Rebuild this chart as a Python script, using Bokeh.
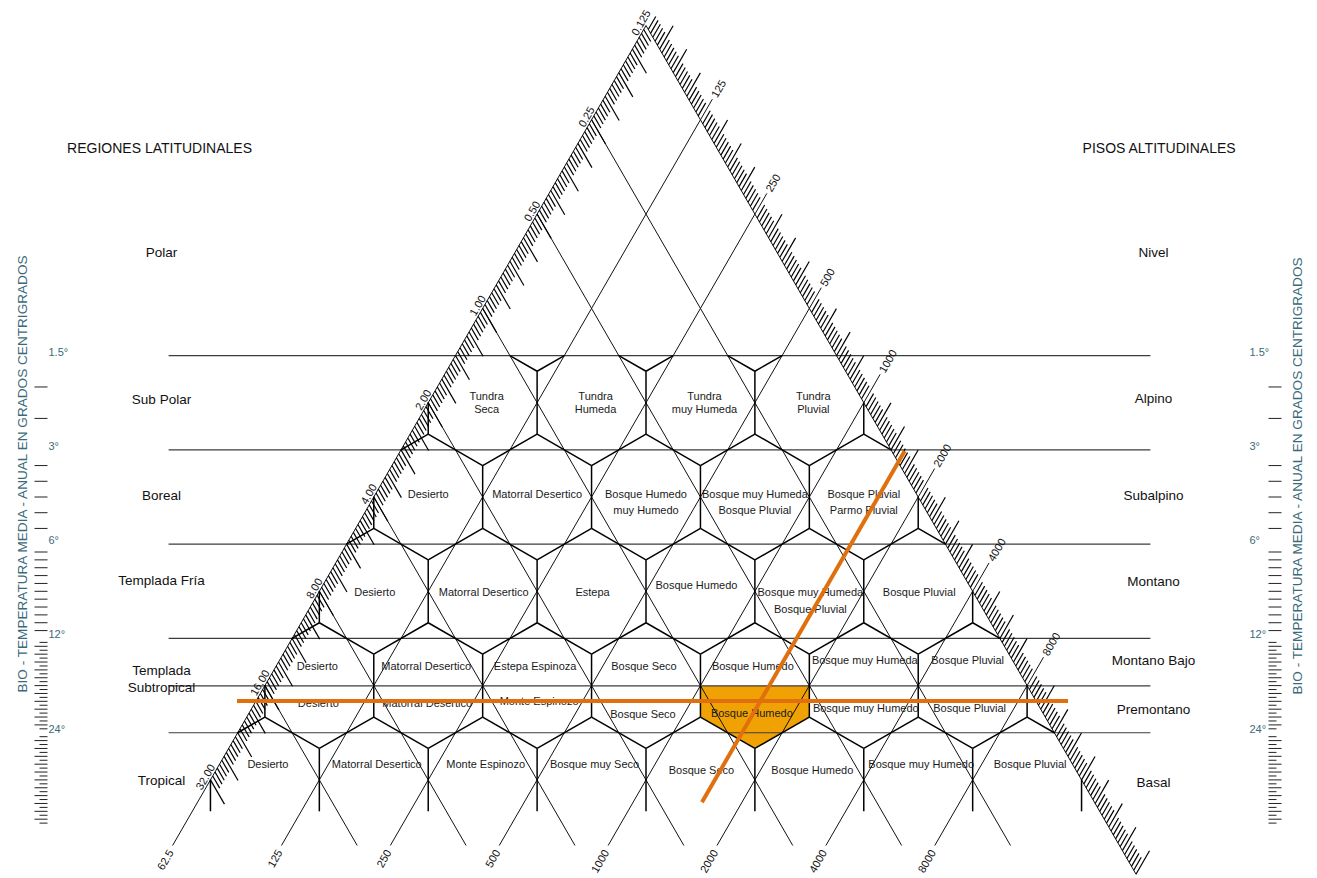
import math
from bokeh.plotting import figure
from bokeh.models import Range1d
from bokeh.embed import file_html
from bokeh.resources import INLINE
from bokeh.core.properties import value

# ---------------- chart values ----------------
pet_values = [0.125, 0.25, 0.5, 1, 2, 4, 8, 16, 32]
pet_labels = ["0.125", "0.25", "0.50", "1.00", "2.00", "4.00", "8.00", "16.00", "32.00"]

precip_edge_values = [125, 250, 500, 1000, 2000, 4000, 8000]
precip_edge_labels = ["125", "250", "500", "1000", "2000", "4000", "8000"]
precip_edge_end = 32000

precip_base_values = [62.5, 125, 250, 500, 1000, 2000, 4000, 8000]
precip_base_labels = ["62.5", "125", "250", "500", "1000", "2000", "4000", "8000"]

temp_lines = [1.5, 3, 6, 12, 17, 24]
temp_scale_values = [1.5, 3, 6, 12, 24]
temp_scale_labels = ["1.5°", "3°", "6°", "12°", "24°"]
temp_scale_steps = [0.5, 0.5, 0.5, 0.5, 1.0]
temp_axis_title = "BIO - TEMPERATURA MEDIA - ANUAL EN GRADOS CENTRIGRADOS"

regions_title = "REGIONES  LATITUDINALES"
regions = ["Polar", "Sub Polar", "Boreal", "Templada Fría", "Templada\nSubtropical", "Tropical"]
region_bands = [(0.375, 1.5), (1.5, 3), (3, 6), (6, 12), (12, 24), (24, 48)]

floors_title = "PISOS ALTITUDINALES"
floors = ["Nivel", "Alpino", "Subalpino", "Montano", "Montano Bajo", "Premontano", "Basal"]
floor_bands = [(0.375, 1.5), (1.5, 3), (3, 6), (6, 12), (12, 17), (17, 24), (24, 48)]

zones_row4 = ["Tundra\nSeca", "Tundra\nHumeda", "Tundra\nmuy Humeda", "Tundra\nPluvial"]
zones_row5 = ["Desierto", "Matorral Desertico", "Bosque Humedo\nmuy Humedo",
              "Bosque muy Humeda\nBosque Pluvial", "Bosque Pluvial\nParmo Pluvial"]
zones_row6 = ["Desierto", "Matorral Desertico", "Estepa", "Bosque Humedo",
              "Bosque muy Humeda\nBosque Pluvial", "Bosque Pluvial"]
zones_row7_upper = ["Desierto", "Matorral Desertico", "Estepa Espinoza", "Bosque Seco",
                    "Bosque Humedo", "Bosque muy Humeda", "Bosque Pluvial"]
zones_row7_lower = ["Desierto", "Matorral Desertico", "Monte Espinozo", "Bosque Seco",
                    "Bosque Humedo", "Bosque muy Humedo", "Bosque Pluvial"]
zones_row8 = ["Desierto", "Matorral Desertico", "Monte Espinozo", "Bosque muy Seco",
              "Bosque Seco", "Bosque Humedo", "Bosque muy Humedo", "Bosque Pluvial"]

sample_temp = 19
sample_precip = 1550

# ---------------- layout (picture pixels) ----------------
W, H = 1317, 878
AX, AY = 645.5, 25.0          # apex of the triangle
RH = 94.3                     # height of one log2 step
HW = RH / math.sqrt(3)        # half width of one step
BASE_Y = 845.0                # cut of the triangle
HEX_R = 2 * RH / 3
REF_ROW = 3.5                 # row of first temperature line
S3 = math.sqrt(3) / 2
UP_R = (0.5, -S3)
DN_R = (0.5, S3)
OUT_L = (-S3, -0.5)
FONT = value("Liberation Sans")
TEAL = "#3a6a7a"
ORANGE_LINE = "#E0700E"
ORANGE_FILL = "#F0A204"
DIAG_END_T = 40


def t_row(t):
    return REF_ROW + math.log2(t / temp_lines[0])


def y_of(r):
    return AY + r * RH


def p_row(v):
    return math.log2(v / precip_base_values[0])


def e_row(v):
    return math.log2(v / pet_values[0])


def left_x(y):
    return AX - (y - AY) / RH * HW


def right_x(y):
    return AX + (y - AY) / RH * HW


p = figure(width=W, height=H, x_range=Range1d(0, W), y_range=Range1d(H, 0),
           output_backend="svg", toolbar_location=None, min_border=0,
           x_axis_type=None, y_axis_type=None)
p.outline_line_color = None
p.background_fill_color = "white"
p.border_fill_color = "white"
p.xgrid.visible = False
p.ygrid.visible = False

# ---------------- highlighted life zone (fill) ----------------
hex_rows = [zones_row4, zones_row5, zones_row6, zones_row7_lower, zones_row8]
hex_centers = []
for names in hex_rows:
    k = len(names)
    for j in range(k):
        m = -(k - 1) + 2 * j
        hex_centers.append((k, j, AX + m * HW, y_of(k)))


def hex_poly(cx, cy):
    return [(cx, cy - HEX_R), (cx + HW, cy - HEX_R / 2), (cx + HW, cy + HEX_R / 2),
            (cx, cy + HEX_R), (cx - HW, cy + HEX_R / 2), (cx - HW, cy - HEX_R / 2)]


pr = p_row(sample_precip)
pey = y_of(pr)
pex = right_x(pey)
sy = y_of(t_row(sample_temp))
sx = pex - (sy - pey) / RH * HW
best = min(hex_centers, key=lambda c: (c[2] - sx) ** 2 + (c[3] - sy) ** 2)
band_low = max(t for t in temp_lines if t <= sample_temp)
ymin = y_of(t_row(band_low))
poly = hex_poly(best[2], best[3])
clipped = []
for i in range(len(poly)):
    a, b = poly[i], poly[(i + 1) % len(poly)]
    ina, inb = a[1] >= ymin, b[1] >= ymin
    if ina:
        clipped.append(a)
    if ina != inb:
        t = (ymin - a[1]) / (b[1] - a[1])
        clipped.append((a[0] + t * (b[0] - a[0]), ymin))
p.patch([q[0] for q in clipped], [q[1] for q in clipped], fill_color=ORANGE_FILL,
        line_color=None)

# ---------------- temperature lines ----------------
tl_x0 = left_x(BASE_Y) - 4
tl_x1 = right_x(BASE_Y) + 31
p.multi_line([[tl_x0, tl_x1] for _ in temp_lines],
             [[y_of(t_row(t))] * 2 for t in temp_lines],
             line_color="#3c3c3c", line_width=1.2)

# ---------------- lattice ----------------
lat_xs, lat_ys = [], []
lat_xs.append([AX, left_x(BASE_Y)])
lat_ys.append([AY, BASE_Y])
ye = y_of(p_row(precip_edge_end))
lat_xs.append([AX, right_x(ye)])
lat_ys.append([AY, ye])
edge_label = []
for v, lab in zip(precip_edge_values, precip_edge_labels):
    ey = y_of(p_row(v))
    ex = right_x(ey)
    ctr = 12 * len(lab)
    ext = ctr - 3.05 * len(lab) - 3
    bx = ex - (BASE_Y - ey) / RH * HW
    lat_xs.append([ex + ext * UP_R[0], bx])
    lat_ys.append([ey + ext * UP_R[1], BASE_Y])
    edge_label.append((ex + ctr * UP_R[0], ey + ctr * UP_R[1], lab))
for v in pet_values[1:-1]:
    ey = y_of(e_row(v))
    ex = left_x(ey)
    bx = ex + (BASE_Y - ey) / RH * HW
    lat_xs.append([ex, bx])
    lat_ys.append([ey, BASE_Y])
p.multi_line(lat_xs, lat_ys, line_color="#111111", line_width=1.0)

# ---------------- hexagon edges (clipped) ----------------
top_y = y_of(t_row(temp_lines[0]))
cons = [lambda q: q[0] - left_x(q[1]) + 0.3,
        lambda q: right_x(q[1]) - q[0] + 0.3,
        lambda q: q[1] - top_y,
        lambda q: BASE_Y - q[1]]


def seg_clip(p0, p1):
    t0, t1 = 0.0, 1.0
    for f in cons:
        f0, f1 = f(p0), f(p1)
        if f0 < 0 and f1 < 0:
            return None
        if f0 < 0:
            t0 = max(t0, f0 / (f0 - f1))
        elif f1 < 0:
            t1 = min(t1, f0 / (f0 - f1))
    if t1 - t0 < 1e-6:
        return None
    dx, dy = p1[0] - p0[0], p1[1] - p0[1]
    return (p0[0] + t0 * dx, p0[1] + t0 * dy), (p0[0] + t1 * dx, p0[1] + t1 * dy)


last_row = max(len(r) for r in hex_rows)
seen = set()
hx, hy = [], []
for (k, j, cx, cy) in hex_centers:
    verts = hex_poly(cx, cy)
    for i in range(6):
        if k == last_row and i in (2, 3):
            continue
        a, b = verts[i], verts[(i + 1) % 6]
        key = tuple(sorted([(round(a[0], 1), round(a[1], 1)), (round(b[0], 1), round(b[1], 1))]))
        if key in seen:
            continue
        seen.add(key)
        c = seg_clip(a, b)
        if c:
            hx.append([c[0][0], c[1][0]])
            hy.append([c[0][1], c[1][1]])
p.multi_line(hx, hy, line_color="black", line_width=1.5)

# ---------------- hatches ----------------
hatch_xs, hatch_ys = [], []
SUB = 24
LONG_EVERY = 6
for k in range(len(pet_values) - 1):
    base = pet_values[k]
    for i in range(1, SUB + 1):
        v = base + i * base / SUB
        r = k + (v - base) / base
        y = y_of(r)
        x = left_x(y)
        L = 28 if i % LONG_EVERY == 0 else 14
        hatch_xs.append([x, x + L * DN_R[0]])
        hatch_ys.append([y, y + L * DN_R[1]])
n_oct = int(round(p_row(precip_edge_end)))
for k in range(n_oct):
    base = precip_base_values[0] * 2 ** k
    for i in range(1, SUB + 1):
        v = base + i * base / SUB
        if v in precip_edge_values:
            continue
        r = k + (v - base) / base
        y = y_of(r)
        x = right_x(y)
        L = 27 if i % LONG_EVERY == 0 else 15
        hatch_xs.append([x, x + L * UP_R[0]])
        hatch_ys.append([y, y + L * UP_R[1]])
p.multi_line(hatch_xs, hatch_ys, line_color="black", line_width=1.2)

# ---------------- temperature scales ----------------
tk_xs, tk_ys = [], []
for a, st in zip(temp_scale_values, temp_scale_steps):
    n = int(round(a / st))
    ya = y_of(t_row(a))
    for i in range(1, n):
        v = a + i * st
        y = ya + (v - a) / a * RH
        if a >= 12:
            L = 13 if abs(v / (2 * st) - round(v / (2 * st))) < 1e-6 else 8
        else:
            L = 13
        tk_xs.append([47 - L, 47])
        tk_ys.append([y, y])
        tk_xs.append([1268, 1268 + L])
        tk_ys.append([y, y])
p.multi_line(tk_xs, tk_ys, line_color="#222222", line_width=1.0)

ty = [y_of(t_row(t)) - 4 for t in temp_scale_values]
p.text(x=[48] * len(ty), y=ty, text=temp_scale_labels, text_font=FONT,
       text_font_size="11px", text_color=TEAL, text_align="left", text_baseline="middle")
p.text(x=[1249] * len(ty), y=ty, text=temp_scale_labels, text_font=FONT,
       text_font_size="11px", text_color=TEAL, text_align="left", text_baseline="middle")
p.text(x=[22, 1297], y=[472, 474], text=[temp_axis_title] * 2, angle=math.pi / 2,
       text_font=FONT, text_font_size="13.6px", text_color=TEAL, text_align="center",
       text_baseline="middle")

# ---------------- edge labels ----------------
lx, ly = [], []
for v in pet_values:
    ey = y_of(e_row(v))
    ex = left_x(ey)
    lx.append(ex + 6 * OUT_L[0])
    ly.append(ey + 6 * OUT_L[1])
p.text(x=lx, y=ly, text=pet_labels, angle=math.pi / 3, text_font=FONT,
       text_font_size="11px", text_color="#111111", text_align="center",
       text_baseline="middle")
p.text(x=[e[0] for e in edge_label], y=[e[1] for e in edge_label],
       text=[e[2] for e in edge_label], angle=math.pi / 3, text_font=FONT,
       text_font_size="11px", text_color="#111111", text_align="center",
       text_baseline="middle")
bxs = [left_x(BASE_Y) + 2 * p_row(v) * HW - 2 for v in precip_base_values]
p.text(x=bxs, y=[BASE_Y + 5] * len(bxs), text=precip_base_labels, angle=math.pi / 3,
       text_font=FONT, text_font_size="11px", text_color="#111111", text_align="right",
       text_baseline="middle")

# ---------------- zone labels ----------------
zone_sets = [
    (zones_row4, 4, y_of(4) - 7, 13, 4),
    (zones_row5, 5, y_of(5) - 3.5, 16, 0),
    (zones_row6, 6, y_of(6) + 1, 17, 1),
    (zones_row7_upper, 7, y_of(t_row(17)) - 20, 15, -2),
    (zones_row7_lower, 7, y_of(t_row(17)) + 17, 15, -1),
    (zones_row8, 8, y_of(8) - 16, 15, 3),
]
nudges = {(2, 3): (-5, -7), (3, 5): (3, -6), (3, 6): (-3, -6), (4, 2): (3, -2),
          (4, 3): (-2, 11), (4, 4): (-2, 10), (4, 5): (3, 5), (4, 6): (-2, 5),
          (5, 4): (-2, 6), (5, 5): (0, 6)}
zx, zy, zt = [], [], []
for si, (names, k, by, lh, dx) in enumerate(zone_sets):
    for j, nm in enumerate(names):
        m = -(k - 1) + 2 * j
        cx = AX + m * HW + dx
        ndx, ndy = nudges.get((si, j), (0, 0))
        for li, line in enumerate(nm.split("\n")):
            zx.append(cx + ndx)
            zy.append(by + ndy + li * lh)
            zt.append(line)
p.text(x=zx, y=zy, text=zt, text_font=FONT, text_font_size="11px", text_color="#1a1a1a",
       text_align="center", text_baseline="middle")

# ---------------- region / floor labels ----------------
def band_y(b):
    return y_of(t_row(math.sqrt(b[0] * b[1])))


reg_dy = [-9, -3, -2, -11, -7, 1]
rx, ry, rt = [], [], []
for nm, b, dy in zip(regions, region_bands, reg_dy):
    lines = nm.split("\n")
    y0 = band_y(b) - (len(lines) - 1) * 17 / 2 + dy
    for li, line in enumerate(lines):
        rx.append(161)
        ry.append(y0 + li * 17)
        rt.append(line)
flo_dy = [-9, -4, -2, -10, -2, 0, 3]
for nm, b, dy in zip(floors, floor_bands, flo_dy):
    rx.append(1153)
    ry.append(band_y(b) + dy)
    rt.append(nm)
p.text(x=rx, y=ry, text=rt, text_font=FONT, text_font_size="13.5px", text_color="#111111",
       text_align="center", text_baseline="middle")
p.text(x=[161, 1159], y=[147, 147], text=[regions_title, floors_title], text_font=FONT,
       text_font_size="14px", text_color="#111111", text_align="center",
       text_baseline="middle")

# ---------------- sample point lines ----------------
p.line([left_x(sy) - 19, right_x(sy) + 32], [sy, sy], line_color=ORANGE_LINE, line_width=4)
yb = y_of(t_row(DIAG_END_T))
p.line([pex + 13 * UP_R[0], pex - (yb - pey) / RH * HW], [pey + 13 * UP_R[1], yb],
       line_color=ORANGE_LINE, line_width=4)

open("out.html", "w").write(file_html(p, INLINE))
